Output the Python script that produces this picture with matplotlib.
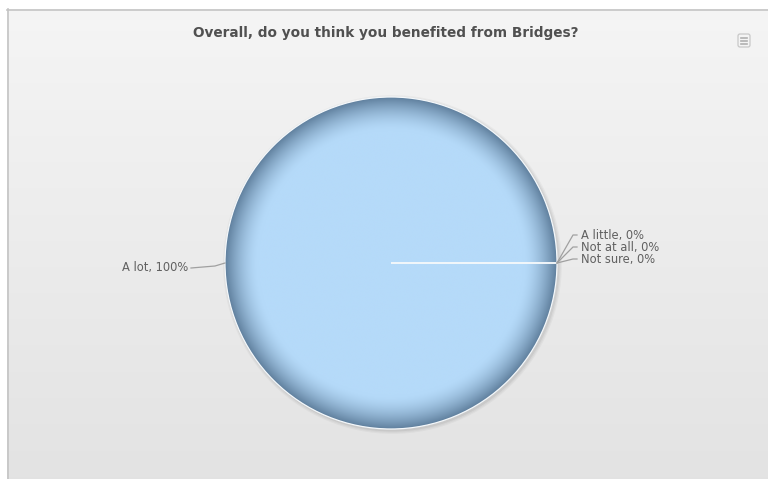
import numpy as np
import matplotlib.pyplot as plt
from matplotlib.patches import FancyBboxPatch, Circle

# answers and their share of responses
answers = ["A lot", "A little", "Not at all", "Not sure"]
shares = [100, 0, 0, 0]
title = "Overall, do you think you benefited from Bridges?"

W, H = 768, 479
fig = plt.figure(figsize=(W / 100, H / 100), dpi=100)
ax = fig.add_axes([0, 0, 1, 1])
ax.set_axis_off()

# chart panel with a soft vertical gradient
grad = np.linspace(0, 1, 256).reshape(-1, 1)
top = np.array([0.960, 0.960, 0.960])
bot = np.array([0.890, 0.890, 0.890])
bg = top + (bot - top) * grad[..., None]
bg = np.repeat(bg, 2, axis=1)
ax.imshow(bg, extent=(7, W, 0, H - 9), aspect="auto", zorder=0)
ax.plot([7.5, 7.5], [0, H - 9], color="#c4c4c4", lw=1.2, zorder=1)
ax.plot([7, W], [H - 9.5, H - 9.5], color="#c4c4c4", lw=1.2, zorder=1)

cx, cy, R = 391, H - 263, 166

# faint drop shadow
for i, a in enumerate([0.05, 0.04, 0.03]):
    ax.add_patch(Circle((cx + 1.5, cy - 1.5), R + 1 + i * 1.2,
                        color="black", alpha=a, lw=0, zorder=2))

wedges, _ = ax.pie(shares, center=(cx, cy), radius=R, startangle=0,
                   counterclock=False,
                   wedgeprops=dict(linewidth=0.9, edgecolor="#f4f8fb",
                                   facecolor="none", zorder=4))

# radial fill: flat light blue with a darker rim
n = 500
xs = np.linspace(-1, 1, n)
X, Y = np.meshgrid(xs, xs)
r = np.clip(np.sqrt(X ** 2 + Y ** 2), 0, 1)
light = np.array([181, 218, 249]) / 255
dark = np.array([96, 128, 158]) / 255
t = np.clip((r - 0.80) / 0.20, 0, 1) ** 1.6
img = light + (dark - light) * t[..., None]
im = ax.imshow(img, extent=(cx - R, cx + R, cy - R, cy + R), zorder=3,
               interpolation="bilinear")
im.set_clip_path(wedges[0])

ax.set_xlim(0, W)
ax.set_ylim(0, H)

txt = "#606060"
lc = "#a0a0a0"
fs = 8.3

# label positions for each slice, taken from the wedge angles
for w, name, val in zip(wedges, answers, shares):
    mid = np.deg2rad((w.theta1 + w.theta2) / 2)
    ex, ey = cx + R * np.cos(mid), cy + R * np.sin(mid)
    if np.cos(mid) < 0:
        lx, ly = ex - 34, ey - 5
        ax.plot([ex, ex - 10, lx], [ey, ey - 3, ly], color=lc, lw=0.9, zorder=5)
        ax.text(lx - 3, ly, f"{name}, {val}%", ha="right", va="center",
                fontsize=fs, color=txt, zorder=6)

right = [(a, v) for a, v in zip(answers, shares) if v == 0]
ex, ey = cx + R, cy
for k, (name, val) in enumerate(right):
    ly = H - (235 + 12 * k)
    lx = 577
    ax.plot([ex, lx - 4, lx], [ey, ly, ly], color=lc, lw=0.9, zorder=5)
    ax.text(lx + 4, ly, f"{name}, {val}%", ha="left", va="center",
            fontsize=fs, color=txt, zorder=6)

ax.text(386, H - 33, title, ha="center", va="center", fontsize=9.8,
        fontweight="bold", color="#505050", zorder=6)

# export menu button
ax.add_patch(FancyBboxPatch((738, H - 47), 12, 13,
                            boxstyle="round,pad=0,rounding_size=2",
                            fc="#f4f4f4", ec="#c8c8c8", lw=0.9, zorder=6))
for dy in (3.5, 6.5, 9.5):
    ax.plot([741, 747], [H - 47 + dy, H - 47 + dy], color="#b0b0b0",
            lw=1.2, zorder=7)

fig.savefig("out.png", dpi=100)
